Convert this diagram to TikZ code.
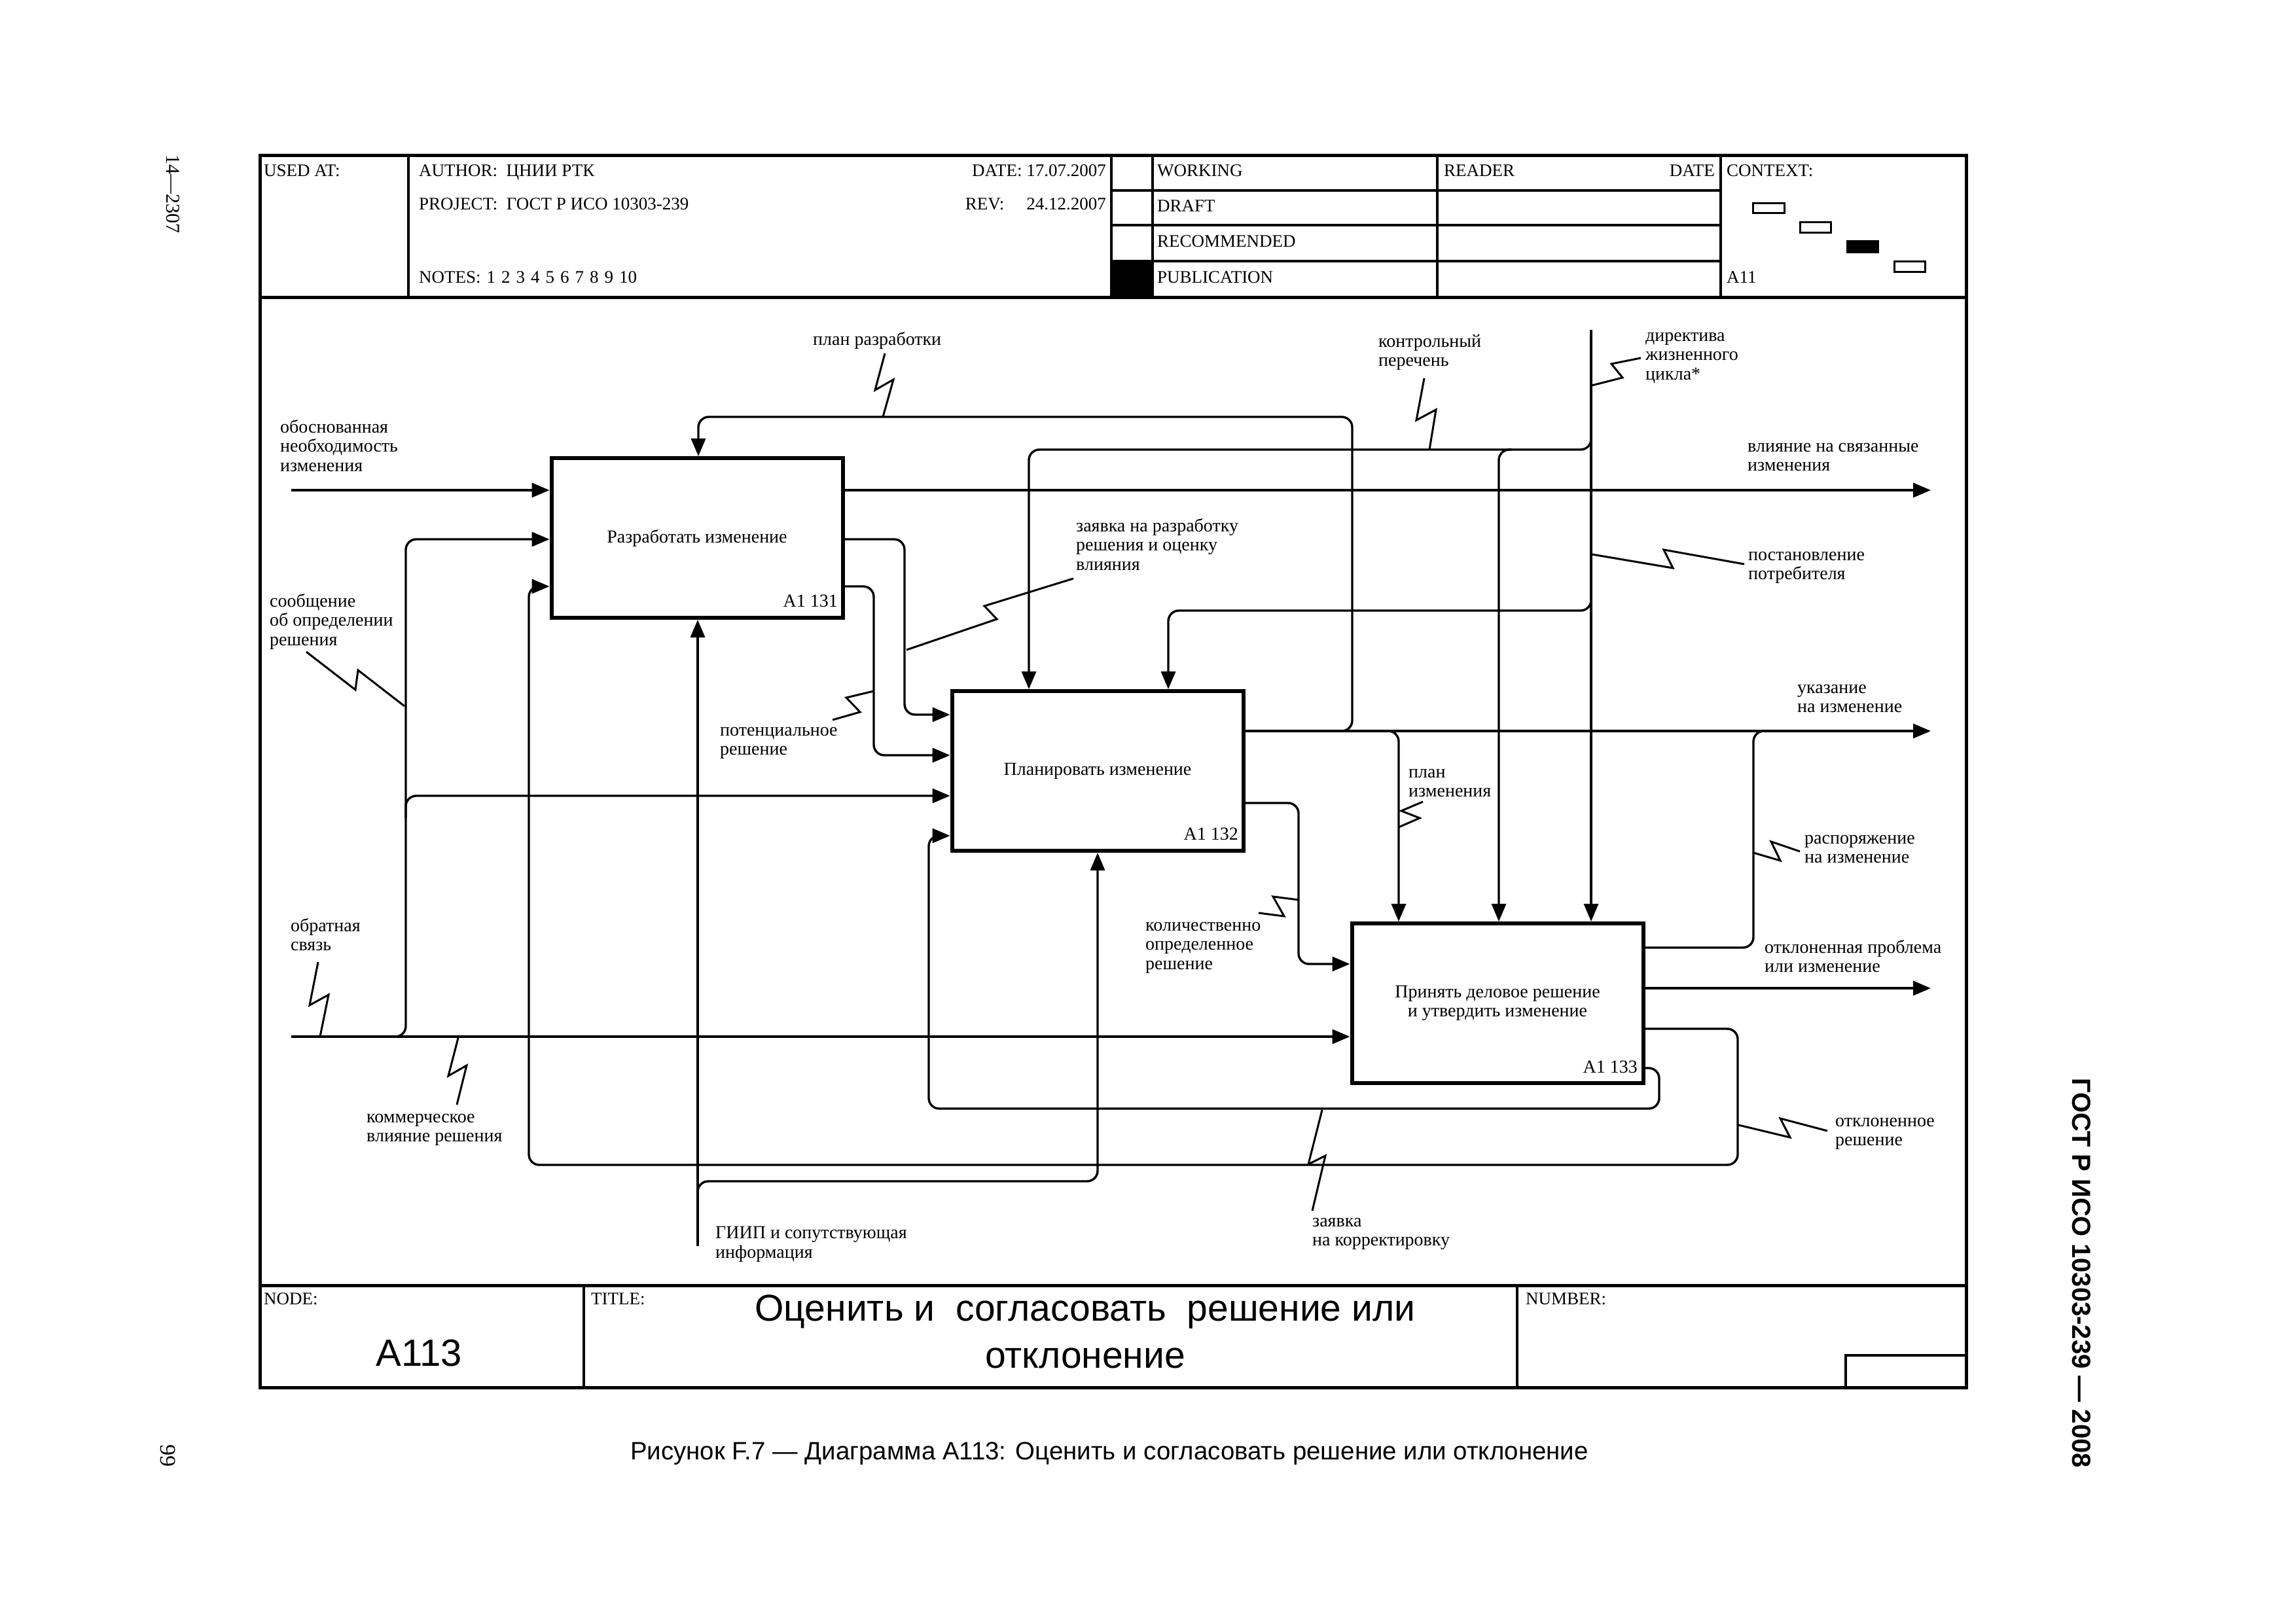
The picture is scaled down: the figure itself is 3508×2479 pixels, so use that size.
\documentclass[tikz,border=0pt]{standalone}
\usepackage{fontspec}
\setmainfont{Liberation Serif}
\newfontfamily\sansf{Liberation Sans}
\usetikzlibrary{arrows.meta}
\newcommand{\lblfont}{\fontsize{28}{29.5}\selectfont}
\newcommand{\hdrfont}{\fontsize{27}{30}\selectfont}
\begin{document}
\begin{tikzpicture}[x=1pt,y=-1pt,
  lbl/.style={font=\lblfont, align=left, anchor=north west, inner sep=0pt, execute at begin node=\strut},
  hdr/.style={font=\hdrfont, anchor=base west, inner sep=0pt},
  fn/.style={line width=3.5pt},
  frm/.style={line width=5pt},
  idef/.style={draw, line width=6pt, minimum width=445pt, minimum height=244pt, inner sep=0pt, font=\lblfont, align=center},
  boxno/.style={font=\lblfont, anchor=east, inner sep=0pt},
  arr/.style={line width=3.4pt, rounded corners=16pt, -{Triangle[length=27pt,width=22pt]}},
  ln/.style={line width=3.4pt, rounded corners=16pt},
  sq/.style={line width=3pt},
  ctx/.style={line width=3pt}
]
\useasboundingbox (0,0) rectangle (3508,2479);
\fill[white] (0,0) rectangle (3508,2479);

% ---------- frame ----------
\draw[frm] (397,237) rectangle (3004,2120);
\draw[frm] (397,454) -- (3004,454);
\draw[frm] (397,1964) -- (3004,1964);
\draw[fn] (624,237) -- (624,454);
\draw[fn] (1698,237) -- (1698,454);
\draw[fn] (1761,237) -- (1761,454);
\draw[fn] (2196,237) -- (2196,454);
\draw[fn] (2629,237) -- (2629,454);
\foreach \yy in {291,344,399} \draw[fn] (1698,\yy) -- (2629,\yy);
\fill (1698,399) rectangle (1761,454);
\draw[ctx] (2678,310) rectangle (2726,325);
\draw[ctx] (2750,339) rectangle (2797,355);
\draw[ctx,fill=black] (2822,368) rectangle (2869,385);
\draw[ctx] (2894,399) rectangle (2941,415);
\draw[fn] (892,1964) -- (892,2120);
\draw[fn] (2318,1964) -- (2318,2120);
\draw[fn] (2820,2120) |- (3004,2071);

% ---------- header texts ----------
\node[hdr] (usedat) at (403,269) {USED AT:};
\node[hdr] (author) at (640,269) {AUTHOR:\ \ ЦНИИ РТК};
\node[hdr,anchor=base east] (date) at (1690,269) {DATE:\ 17.07.2007};
\node[hdr] (project) at (640,320) {PROJECT:\ \ ГОСТ Р ИСО 10303-239};
\node[hdr,anchor=base east] (rev) at (1690,320) {REV:\hspace{34pt}24.12.2007};
\node[hdr] (notes) at (640,432) {NOTES:\hspace{9pt}1\hspace{9pt}2\hspace{9pt}3\hspace{9pt}4\hspace{9pt}5\hspace{9pt}6\hspace{9pt}7\hspace{9pt}8\hspace{9pt}9\hspace{9pt}10};
\node[hdr] (working) at (1768,269) {WORKING};
\node[hdr] (draft) at (1768,323) {DRAFT};
\node[hdr] (recom) at (1768,377) {RECOMMENDED};
\node[hdr] (publ) at (1768,432) {PUBLICATION};
\node[hdr] (reader) at (2206,269) {READER};
\node[hdr,anchor=base east] (rdate) at (2620,269) {DATE};
\node[hdr] (context) at (2638,269) {CONTEXT:};
\node[hdr] (ctxno) at (2638,432) {A11};

% ---------- footer texts ----------
\node[hdr] (nodelbl) at (403,1993) {NODE:};
\node[hdr] (titlelbl) at (903,1993) {TITLE:};
\node[hdr] (numlbl) at (2331,1993) {NUMBER:};
\node[font=\sansf\fontsize{58}{72}\selectfont, inner sep=0pt] (nodeno) at (640,2068) {A113};
\node[font=\sansf\fontsize{57}{72}\selectfont, inner sep=0pt, align=center, anchor=north, execute at begin node=\strut] (title) at (1658,1978) {Оценить и\ \ согласовать\ \ решение или\\отклонение};

% ---------- outside texts ----------
\node[font=\sansf\fontsize{38.4}{46}\selectfont, inner sep=0pt] (caption) at (1695,2221) {Рисунок F.7 — Диаграмма А113: Оценить и согласовать решение или отклонение};
\node[font=\sansf\bfseries\fontsize{40}{46}\selectfont, inner sep=0pt, rotate=-90] (gost) at (3180,1945) {ГОСТ Р ИСО 10303-239 — 2008};
\node[font=\fontsize{30}{34}\selectfont, inner sep=0pt, rotate=-90] (sheet) at (264,296) {14—2307};
\node[font=\fontsize{34}{38}\selectfont, inner sep=0pt, rotate=-90] (page) at (257,2224) {99};

% ---------- activity boxes ----------
\node[idef] (A131) at (1065,822) {Разработать изменение};
\node[idef] (A132) at (1677,1178) {Планировать изменение};
\node[idef] (A133) at (2288,1533) {Принять деловое решение\\и утвердить изменение};
\node[boxno] (n131) at (1280,918) {A1 131};
\node[boxno] (n132) at (1892,1274) {A1 132};
\node[boxno] (n133) at (2502,1630) {A1 133};

% ---------- free ends ----------
\coordinate (in1) at (445,749);
\coordinate (in2) at (445,1584);
\coordinate (out1) at (2950,749);
\coordinate (out2) at (2950,1117);
\coordinate (out3) at (2950,1510);
\coordinate (ctl) at (2431,504);
\coordinate (mech) at (1066,1904);

% ---------- connectors ----------
\draw[arr] (in1) -- (in1 -| A131.west);
\draw[arr] (A131.east |- in1) -- (out1);
\draw[arr] (A132.east |- out2) -- (out2);
\draw[arr] (A133.east |- out3) -- (out3);
\draw[arr] (in2) -- (in2 -| A133.west);
\draw[arr] (590,1584) -- (620,1584) -- (620,824) -- (A131.west |- 0,824);
\draw[arr] (620,1250) -- (620,1216) -- (A132.west |- 0,1216);
\draw[arr] (A131.east |- 0,824) -- (1382,824) -- (1382,1092) -- (A132.west |- 0,1092);
\draw[arr] (A131.east |- 0,896) -- (1335,896) -- (1335,1154) -- (A132.west |- 0,1154);
\draw[arr] (A132.east |- 0,1227) -- (1984,1227) -- (1984,1473) -- (A133.west |- 0,1473);
\draw[arr] (2040,1117) -- (2066,1117) -- (2066,637) -- (1067,637) -- (A131.north -| 1067,0);
\draw[arr] (2110,1117) -- (2137,1117) -- (A133.north -| 2137,0);
\draw[ln] (A133.east |- 0,1448) -- (2679,1448) -- (2679,1117) -- (2705,1117);
\draw[arr] (ctl) -- (A133.north -| ctl);
\draw[arr] (2431,660) -- (2431,687) -- (1572,687) -- (A132.north -| 1572,0);
\draw[arr] (2310,687) -- (2290,687) -- (A133.north -| 2290,0);
\draw[arr] (2431,905) -- (2431,933) -- (1785,933) -- (A132.north -| 1785,0);
\draw[arr] (mech) -- (A131.south -| mech);
\draw[arr] (1066,1830) -- (1066,1805) -- (1677,1805) -- (A132.south -| 1677,0);
\draw[arr] (A133.east |- 0,1572) -- (2655,1572) -- (2655,1780) -- (808,1780) -- (808,896) -- (A131.west |- 0,896);
\draw[arr] (A133.east |- 0,1632) -- (2535,1632) -- (2535,1694) -- (1419,1694) -- (1419,1277) -- (A132.west |- 0,1277);

% ---------- squiggles ----------
\draw[sq] (1352,540) -- (1337,596) -- (1365,580) -- (1349,637);
\draw[sq] (1385,993) -- (1523,946) -- (1504,926) -- (1640,884);
\draw[sq] (1335,1056) -- (1293,1066) -- (1314,1088) -- (1272,1100);
\draw[sq] (468,996) -- (543,1054) -- (547,1024) -- (618,1079);
\draw[sq] (486,1470) -- (473,1536) -- (502,1520) -- (489,1584);
\draw[sq] (700,1586) -- (685,1644) -- (713,1628) -- (698,1688);
\draw[sq] (2176,578) -- (2164,642) -- (2194,626) -- (2184,687);
\draw[sq] (2432,589) -- (2479,577) -- (2462,556) -- (2507,547);
\draw[sq] (2432,847) -- (2556,868) -- (2542,840) -- (2665,862);
\draw[sq] (2137,1264) -- (2169,1250) -- (2141,1239) -- (2174,1225);
\draw[sq] (2679,1303) -- (2720,1315) -- (2706,1286) -- (2750,1301);
\draw[sq] (1984,1375) -- (1945,1370) -- (1962,1400) -- (1923,1395);
\draw[sq] (2656,1719) -- (2735,1738) -- (2720,1709) -- (2792,1728);
\draw[sq] (2020,1696) -- (1999,1779) -- (2025,1766) -- (2005,1850);

% ---------- arrow labels ----------
\node[lbl] (t1) at (428,641) {обоснованная\\необходимость\\изменения};
\node[lbl] (t2) at (412,907) {сообщение\\об определении\\решения};
\node[lbl] (t3) at (444,1403) {обратная\\связь};
\node[lbl] (t4) at (560,1702) {коммерческое\\влияние решения};
\node[lbl] (t5) at (1242,507) {план разработки};
\node[lbl] (t6) at (1644,792) {заявка на разработку\\решения и оценку\\влияния};
\node[lbl] (t7) at (1100,1111) {потенциальное\\решение};
\node[lbl] (t8) at (2106,511) {контрольный\\перечень};
\node[lbl] (t9) at (2514,508) {директива\\жизненного\\цикла*};
\node[lbl] (t10) at (2670,677) {влияние на связанные\\изменения};
\node[lbl] (t11) at (2671,843) {постановление\\потребителя};
\node[lbl] (t12) at (2746,1046) {указание\\на изменение};
\node[lbl] (t13) at (2152,1175) {план\\изменения};
\node[lbl] (t14) at (2757,1276) {распоряжение\\на изменение};
\node[lbl] (t15) at (1750,1409) {количественно\\определенное\\решение};
\node[lbl] (t16) at (2696,1436) {отклоненная проблема\\или изменение};
\node[lbl] (t17) at (2804,1708) {отклоненное\\решение};
\node[lbl] (t18) at (2005,1861) {заявка\\на корректировку};
\node[lbl] (t19) at (1093,1874) {ГИИП и сопутствующая\\информация};
\end{tikzpicture}
\end{document}
